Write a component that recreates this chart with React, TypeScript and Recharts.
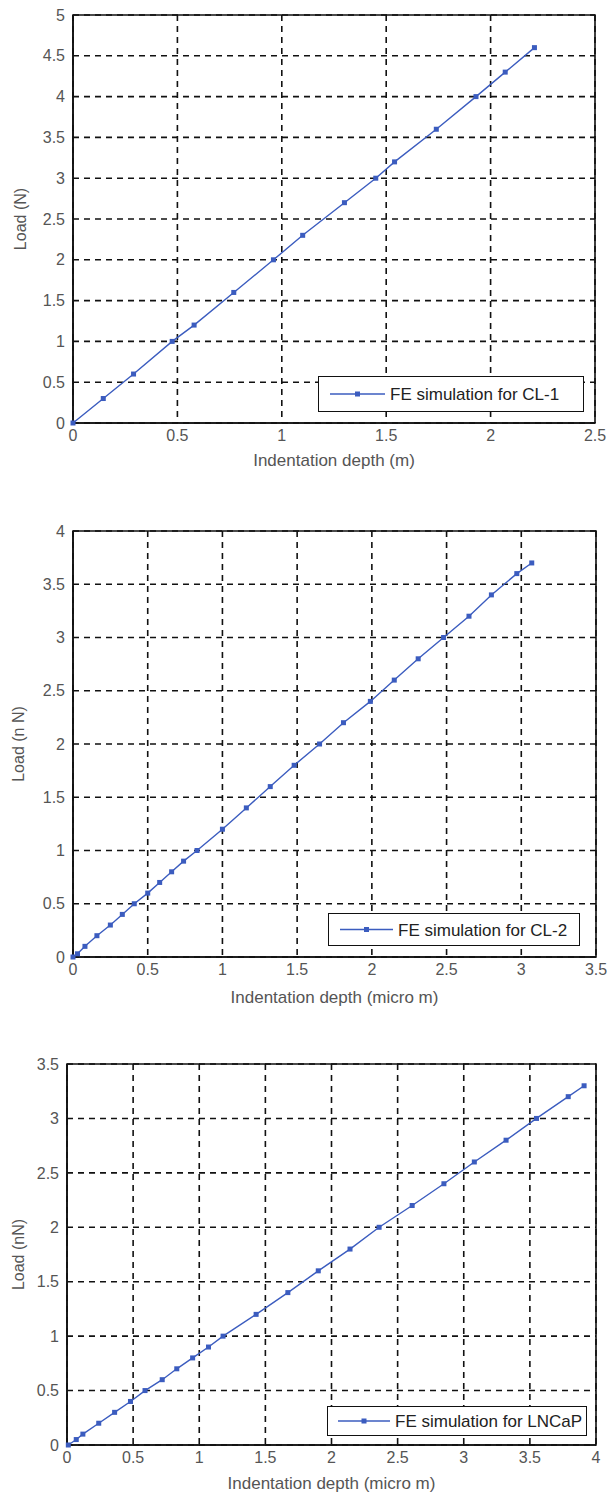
import { LineChart, Line, XAxis, YAxis, CartesianGrid, ReferenceArea, Legend } from 'recharts'

// CL-1
const cl1Depth = [0, 0.145, 0.29, 0.475, 0.58, 0.77, 0.96, 1.1, 1.3, 1.45, 1.54, 1.74, 1.93, 2.07, 2.21]
const cl1Load = [0, 0.3, 0.6, 1.0, 1.2, 1.6, 2.0, 2.3, 2.7, 3.0, 3.2, 3.6, 4.0, 4.3, 4.6]
const cl1XTicks = [0, 0.5, 1, 1.5, 2, 2.5]
const cl1YTicks = [0, 0.5, 1, 1.5, 2, 2.5, 3, 3.5, 4, 4.5, 5]

// CL-2
const cl2Depth = [0, 0.03, 0.08, 0.16, 0.25, 0.33, 0.41, 0.5, 0.58, 0.66, 0.74, 0.83, 1.0, 1.16, 1.32, 1.48, 1.65, 1.81, 1.99, 2.15, 2.31, 2.48, 2.65, 2.8, 2.97, 3.07]
const cl2Load = [0, 0.03, 0.1, 0.2, 0.3, 0.4, 0.5, 0.6, 0.7, 0.8, 0.9, 1.0, 1.2, 1.4, 1.6, 1.8, 2.0, 2.2, 2.4, 2.6, 2.8, 3.0, 3.2, 3.4, 3.6, 3.7]
const cl2XTicks = [0, 0.5, 1, 1.5, 2, 2.5, 3, 3.5]
const cl2YTicks = [0, 0.5, 1, 1.5, 2, 2.5, 3, 3.5, 4]

// LNCaP
const lnDepth = [0.01, 0.07, 0.12, 0.24, 0.36, 0.48, 0.59, 0.72, 0.83, 0.95, 1.07, 1.18, 1.43, 1.67, 1.9, 2.14, 2.36, 2.61, 2.85, 3.08, 3.32, 3.55, 3.79, 3.91]
const lnLoad = [0, 0.05, 0.1, 0.2, 0.3, 0.4, 0.5, 0.6, 0.7, 0.8, 0.9, 1.0, 1.2, 1.4, 1.6, 1.8, 2.0, 2.2, 2.4, 2.6, 2.8, 3.0, 3.2, 3.3]
const lnXTicks = [0, 0.5, 1, 1.5, 2, 2.5, 3, 3.5, 4]
const lnYTicks = [0, 0.5, 1, 1.5, 2, 2.5, 3, 3.5]

const BLUE = '#3b5cbf'
const FONT = '"Liberation Sans", Arial, sans-serif'

const toData = (xs: number[], ys: number[]) => xs.map((x, i) => ({ x, y: ys[i] }))

const Marker = (props: any) => {
  const { cx, cy, index } = props
  if (cx == null || cy == null) return <g key={index} />
  return <rect key={index} x={cx - 2.5} y={cy - 2.5} width={5} height={5} fill={BLUE} />
}

interface PanelProps {
  top: number
  height: number
  margin: { top: number; right: number; left: number; bottom: number }
  yWidth: number
  xHeight: number
  xs: number[]
  ys: number[]
  xTicks: number[]
  yTicks: number[]
  xLabel: string
  yLabel: string
  xLabelBaseline: number
  yLabelX: number
  name: string
  legend: { left: number; top: number; width: number; height: number; lineFrom: number; lineTo: number }
}

function Panel(p: PanelProps) {
  const data = toData(p.xs, p.ys)
  const xMax = p.xTicks[p.xTicks.length - 1]
  const yMax = p.yTicks[p.yTicks.length - 1]

  const LegendBox = () => (
    <div
      style={{
        width: p.legend.width,
        height: p.legend.height,
        boxSizing: 'border-box',
        border: '1.5px solid #111',
        background: '#fff',
        position: 'relative',
        fontFamily: FONT,
      }}
    >
      <svg width={p.legend.width} height={p.legend.height} style={{ position: 'absolute', left: -1.5, top: -1.5 }}>
        <line x1={p.legend.lineFrom} x2={p.legend.lineTo} y1={p.legend.height / 2} y2={p.legend.height / 2} stroke={BLUE} strokeWidth={1.4} />
        <rect x={(p.legend.lineFrom + p.legend.lineTo) / 2 - 2.5} y={p.legend.height / 2 - 2.5} width={5} height={5} fill={BLUE} />
        <text x={p.legend.lineTo + 5} y={p.legend.height / 2 + 6} fontSize={17} fill="#222" fontFamily={FONT}>
          {p.name}
        </text>
      </svg>
    </div>
  )

  return (
    <div style={{ position: 'absolute', left: 0, top: p.top }}>
      <LineChart width={607} height={p.height} data={data} margin={p.margin}>
        <CartesianGrid stroke="#111" strokeDasharray="6 5" strokeWidth={1.6} />
        <XAxis
          type="number"
          dataKey="x"
          domain={[0, xMax]}
          ticks={p.xTicks}
          height={p.xHeight}
          axisLine={{ stroke: '#111', strokeWidth: 1.6 }}
          tickLine={false}
          tickSize={0}
          tickMargin={7}
          tick={{ fontSize: 16, fill: '#555', fontFamily: FONT }}
          label={(lp: any) => {
            const vb = lp.viewBox
            return (
              <text x={vb.x + vb.width / 2} y={p.xLabelBaseline} textAnchor="middle" fontSize={17} fill="#555" fontFamily={FONT}>
                {p.xLabel}
              </text>
            )
          }}
        />
        <YAxis
          type="number"
          domain={[0, yMax]}
          ticks={p.yTicks}
          width={p.yWidth}
          axisLine={{ stroke: '#111', strokeWidth: 1.6 }}
          tickLine={false}
          tickSize={0}
          tickMargin={8}
          tick={{ fontSize: 16, fill: '#555', fontFamily: FONT }}
          label={(lp: any) => {
            const vb = lp.viewBox
            const cy = vb.y + vb.height / 2
            return (
              <text
                x={p.yLabelX}
                y={cy}
                textAnchor="middle"
                dominantBaseline="central"
                transform={`rotate(-90 ${p.yLabelX} ${cy})`}
                fontSize={16}
                fill="#555"
                fontFamily={FONT}
              >
                {p.yLabel}
              </text>
            )
          }}
        />
        <ReferenceArea x1={0} x2={xMax} y1={0} y2={yMax} fill="none" stroke="#111" strokeWidth={1.6} fillOpacity={0} />
        <Line
          type="linear"
          dataKey="y"
          name={p.name}
          stroke={BLUE}
          strokeWidth={1.4}
          dot={Marker}
          activeDot={false}
          isAnimationActive={false}
        />
        <Legend
          layout="horizontal"
          verticalAlign="middle"
          align="center"
          content={<LegendBox />}
          wrapperStyle={{ position: 'absolute', left: p.legend.left, top: p.legend.top, width: p.legend.width, height: p.legend.height }}
        />
      </LineChart>
    </div>
  )
}

export default function App() {
  return (
    <div style={{ position: 'absolute', left: 0, top: 0, width: 607, height: 1495, background: '#fff' }}>
      <Panel
        top={0}
        height={480}
        margin={{ top: 15, right: 12, left: 0, bottom: 0 }}
        yWidth={73}
        xHeight={57}
        xs={cl1Depth}
        ys={cl1Load}
        xTicks={cl1XTicks}
        yTicks={cl1YTicks}
        xLabel="Indentation depth (m)"
        yLabel="Load (N)"
        xLabelBaseline={466}
        yLabelX={20}
        name="FE simulation for CL-1"
        legend={{ left: 318, top: 376, width: 266, height: 36, lineFrom: 12, lineTo: 67 }}
      />
      <Panel
        top={500}
        height={510}
        margin={{ top: 31, right: 11, left: 0, bottom: 0 }}
        yWidth={73}
        xHeight={53}
        xs={cl2Depth}
        ys={cl2Load}
        xTicks={cl2XTicks}
        yTicks={cl2YTicks}
        xLabel="Indentation depth (micro m)"
        yLabel="Load (n N)"
        xLabelBaseline={503}
        yLabelX={18}
        name="FE simulation for CL-2"
        legend={{ left: 328, top: 413, width: 252, height: 33, lineFrom: 12, lineTo: 65 }}
      />
      <Panel
        top={1030}
        height={465}
        margin={{ top: 34, right: 11, left: 0, bottom: 0 }}
        yWidth={67}
        xHeight={50}
        xs={lnDepth}
        ys={lnLoad}
        xTicks={lnXTicks}
        yTicks={lnYTicks}
        xLabel="Indentation depth (micro m)"
        yLabel="Load (nN)"
        xLabelBaseline={459}
        yLabelX={18}
        name="FE simulation for LNCaP"
        legend={{ left: 327, top: 376, width: 260, height: 30, lineFrom: 11, lineTo: 63 }}
      />
    </div>
  )
}
